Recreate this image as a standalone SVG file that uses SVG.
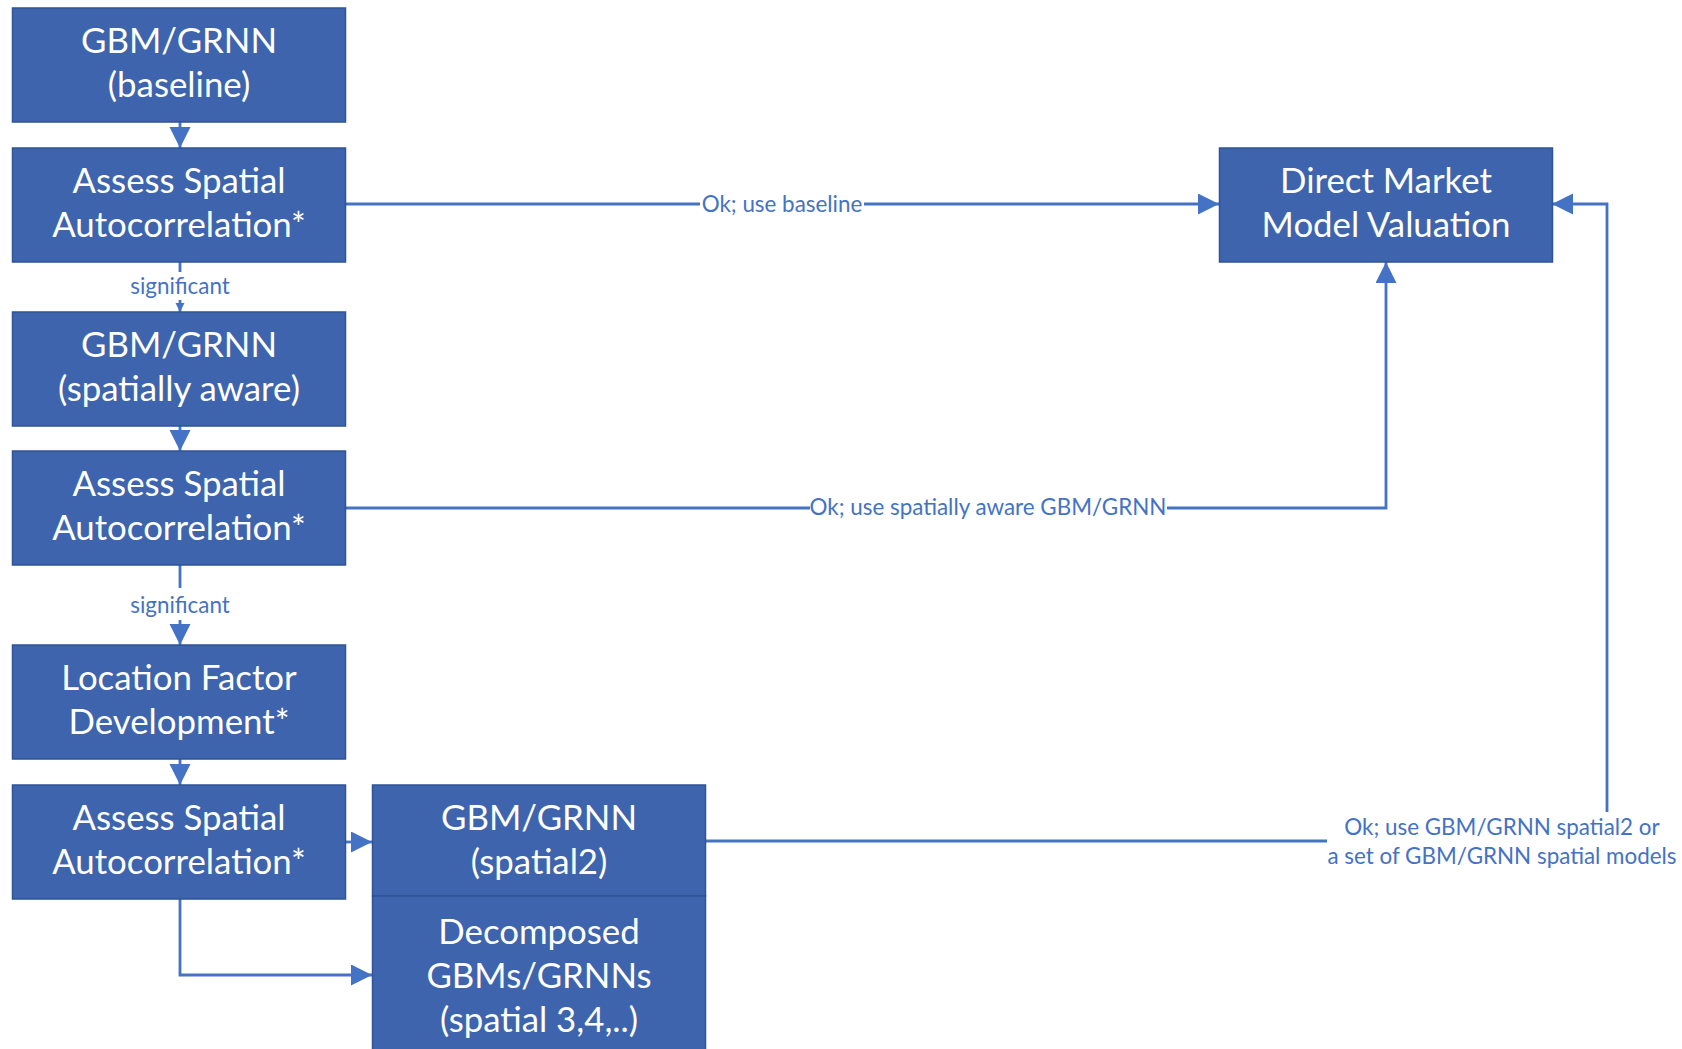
<svg xmlns="http://www.w3.org/2000/svg" width="1682" height="1049" viewBox="0 0 1682 1049">
  <style>
    .node rect { fill: #3E64AE; stroke: #2F5496; stroke-width: 1.5; }
    .node text { fill: #FFFFFF; font-family: Lato, "Open Sans", sans-serif; font-size: 34.8px; text-anchor: middle; }
    .conn { fill: none; stroke: #4472C4; stroke-width: 2.8; }
    .lbl { fill: #4472C4; font-family: Lato, "Open Sans", sans-serif; font-size: 22.4px; text-anchor: middle; }
  </style>
  <defs>
    <marker id="arrow" markerUnits="userSpaceOnUse" markerWidth="22" markerHeight="22" refX="21" refY="10.5" orient="auto">
      <path d="M0,0 L21,10.5 L0,21 z" fill="#4472C4"/>
    </marker>
    <marker id="arrow-sm" markerUnits="userSpaceOnUse" markerWidth="10" markerHeight="10" refX="9" refY="4.5" orient="auto">
      <path d="M0,0 L9,4.5 L0,9 z" fill="#4472C4"/>
    </marker>
  </defs>

  <rect width="1682" height="1049" fill="#FFFFFF"/>

  <!-- connectors -->
  <g id="connectors">
    <path class="conn" d="M180,122 L180,148" marker-end="url(#arrow)"/>
    <path class="conn" d="M180,262 L180,272"/>
    <path class="conn" d="M180,300 L180,312" marker-end="url(#arrow-sm)"/>
    <path class="conn" d="M180,426 L180,451" marker-end="url(#arrow)"/>
    <path class="conn" d="M180,565 L180,588"/>
    <path class="conn" d="M180,620 L180,645" marker-end="url(#arrow)"/>
    <path class="conn" d="M180,759 L180,785" marker-end="url(#arrow)"/>
    <path class="conn" d="M346,842 L372,842" marker-end="url(#arrow)"/>
    <path class="conn" d="M180,899 L180,975 L372,975" marker-end="url(#arrow)"/>
    <path class="conn" d="M346,204 L700,204"/>
    <path class="conn" d="M864,204 L1219,204" marker-end="url(#arrow)"/>
    <path class="conn" d="M346,508 L810,508"/>
    <path class="conn" d="M1167,508 L1386,508 L1386,262" marker-end="url(#arrow)"/>
    <path class="conn" d="M705,841 L1327,841"/>
    <path class="conn" d="M1607,812 L1607,204 L1552,204" marker-end="url(#arrow)"/>

    <text class="lbl" x="180" y="293.5">significant</text>
    <text class="lbl" x="180" y="613">significant</text>
    <text class="lbl" x="782" y="212">Ok; use baseline</text>
    <text class="lbl" x="988" y="515">Ok; use spatially aware GBM/GRNN</text>
    <text class="lbl" x="1502" y="835">Ok; use GBM/GRNN spatial2 or</text>
    <text class="lbl" x="1502" y="864">a set of GBM/GRNN spatial models</text>
  </g>

  <!-- nodes -->
  <g id="gbm-baseline" class="node">
    <rect x="12.5" y="8" width="333" height="114"/>
    <text x="179" y="53">GBM/GRNN</text>
    <text x="179" y="97">(baseline)</text>
  </g>
  <g id="assess-1" class="node">
    <rect x="12.5" y="148" width="333" height="114"/>
    <text x="179" y="193">Assess Spatial</text>
    <text x="179" y="237">Autocorrelation*</text>
  </g>
  <g id="gbm-spatially-aware" class="node">
    <rect x="12.5" y="312" width="333" height="114"/>
    <text x="179" y="357">GBM/GRNN</text>
    <text x="179" y="401">(spatially aware)</text>
  </g>
  <g id="assess-2" class="node">
    <rect x="12.5" y="451" width="333" height="114"/>
    <text x="179" y="496">Assess Spatial</text>
    <text x="179" y="540">Autocorrelation*</text>
  </g>
  <g id="location-factor" class="node">
    <rect x="12.5" y="645" width="333" height="114"/>
    <text x="179" y="690">Location Factor</text>
    <text x="179" y="734">Development*</text>
  </g>
  <g id="assess-3" class="node">
    <rect x="12.5" y="785" width="333" height="114"/>
    <text x="179" y="830">Assess Spatial</text>
    <text x="179" y="874">Autocorrelation*</text>
  </g>
  <g id="gbm-spatial2" class="node">
    <rect x="372.5" y="785" width="333" height="111"/>
    <text x="539" y="830">GBM/GRNN</text>
    <text x="539" y="874">(spatial2)</text>
  </g>
  <g id="decomposed" class="node">
    <rect x="372.5" y="896" width="333" height="170"/>
    <text x="539" y="944">Decomposed</text>
    <text x="539" y="988">GBMs/GRNNs</text>
    <text x="539" y="1032">(spatial 3,4,..)</text>
  </g>
  <g id="direct-market" class="node">
    <rect x="1219.5" y="148" width="333" height="114"/>
    <text x="1386" y="193">Direct Market</text>
    <text x="1386" y="237">Model Valuation</text>
  </g>
</svg>
